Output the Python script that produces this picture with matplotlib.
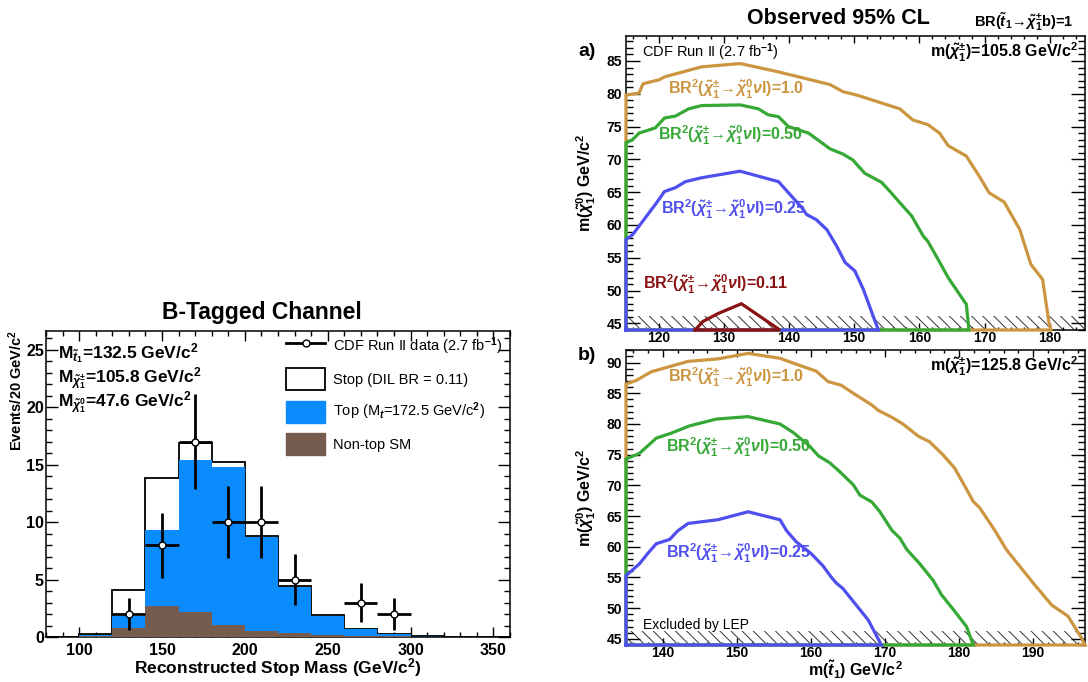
import matplotlib
matplotlib.use('agg')
import matplotlib.pyplot as plt
from matplotlib.ticker import MultipleLocator
from matplotlib.lines import Line2D
from matplotlib.patches import Patch

plt.rcParams['font.family'] = ['Liberation Sans', 'DejaVu Sans']
plt.rcParams['font.weight'] = 'bold'
plt.rcParams['mathtext.fontset'] = 'custom'
plt.rcParams['mathtext.rm'] = 'Liberation Sans:bold'
plt.rcParams['mathtext.it'] = 'Liberation Sans:italic:bold'
plt.rcParams['mathtext.bf'] = 'Liberation Sans:bold'
plt.rcParams['hatch.linewidth'] = 0.7

# ---- left panel: b-tagged channel histogram ----
bin_edges = [80, 100, 120, 140, 160, 180, 200, 220, 240, 260, 280, 300, 320, 340, 360]
stack_total = [0, 0.28, 4.12, 13.85, 16.9, 15.24, 8.8, 4.41, 1.89, 0.73, 0.29, 0.12, 0, 0]
top_sm = [0, 0.15, 1.83, 9.29, 15.39, 14.8, 8.71, 4.36, 1.87, 0.71, 0.27, 0.09, 0, 0]
nontop_sm = [0, 0.08, 0.81, 2.73, 2.18, 1.07, 0.49, 0.32, 0.2, 0.12, 0.06, 0.02, 0, 0]
data_x = [130, 150, 170, 190, 210, 230, 270, 290]
data_y = [2, 8, 17, 10, 10, 5, 3, 2]
data_err = [1.41, 2.83, 4.12, 3.16, 3.16, 2.24, 1.73, 1.41]

# ---- right panels: exclusion contours ----
# a) m(chargino) = 105.8
oa_x = [115, 115, 117, 117.6, 118.7, 120, 121, 126.6, 132.5, 138.1, 146.3, 148.3, 150.4, 157, 159,
        161.3, 163.1, 164.4, 167.2, 169.2, 170.7, 173, 175.4, 177.1, 178.9, 179.9, 180.2, 115]
oa_y = [44, 79.8, 80.1, 81.5, 81.8, 82.1, 82.6, 84.1, 84.6, 83.4, 81.4, 80.3, 79.8, 77.7, 76,
        75.3, 74, 72.1, 70.5, 67.4, 64.9, 63.5, 59.3, 54, 51.7, 44.9, 44, 44]
ga_x = [115, 115, 116, 117, 119.5, 120.9, 122.6, 124.6, 126.6, 132.5, 135.3, 136.8, 138.4, 139.9, 143,
        146.3, 148.3, 149.8, 151.6, 154.2, 155.5, 157, 158.8, 160.6, 161.3, 162.9, 164.4, 167.2, 167.6, 115]
ga_y = [44, 72.5, 73, 74, 74.8, 76.3, 76.6, 77.7, 78.2, 78.3, 77.7, 76.8, 76.5, 75, 74,
        71.6, 70.8, 69.9, 67.9, 66.5, 65.1, 63.4, 61.4, 58.3, 57.5, 54.7, 52, 47.9, 44, 44]
ba_x = [115, 115, 116, 119.7, 120.9, 122.6, 124.1, 126.6, 132.5, 138.4, 140.2, 142, 142.7, 144.2,
        145.8, 147.3, 148.6, 150.1, 151.4, 153.7, 115]
ba_y = [44, 57.8, 58.5, 63.4, 65.1, 65.7, 66.6, 67.2, 68.2, 66.6, 64.6, 62.6, 61.6, 60.8,
        59.3, 56.8, 54.3, 53, 50.2, 44, 44]
ra_x = [125.6, 126.8, 129.1, 132.7, 138.6, 125.6]
ra_y = [44, 45.3, 46.5, 48.0, 44, 44]
# b) m(chargino) = 125.8
ob_x = [135, 135, 136.4, 138.4, 143.4, 147.4, 151.5, 155.8, 157.6, 160.7, 162.3, 164.1, 165.7, 168.2,
        169.1, 170.9, 172.4, 174.5, 176, 177.8, 179.4, 180.8, 181.9, 182.8, 184.8, 186.4, 188.2, 190,
        192.5, 194.7, 196.5, 197, 135]
ob_y = [44, 86.5, 87.1, 88.5, 90.2, 90.6, 91.5, 90.7, 89.9, 88.6, 86.9, 86.3, 85, 83.1,
        82.2, 81.1, 80, 78, 77.1, 75, 72.8, 69.8, 67.4, 66.3, 62.7, 59.5, 56.8, 54.1,
        50.5, 48.7, 45.2, 44, 44]
gb_x = [135, 135, 136.8, 139.1, 141.1, 143.6, 147.2, 151.5, 155.8, 157.6, 159.8, 161, 162.5, 163.9,
        165.7, 166.6, 168.2, 169.3, 170.9, 172, 172.9, 174.7, 176.5, 177.6, 179.2, 181, 181.9, 135]
gb_y = [44, 74.3, 75.2, 77.7, 78.5, 79.7, 80.8, 81.2, 80, 78.6, 76.4, 74.8, 73.7, 72.2,
        70.1, 68.4, 67.3, 65.7, 62.7, 61.4, 59.6, 57.2, 54.5, 52.2, 49.8, 47, 44, 44]
bb_x = [135, 135, 136.8, 138, 139.1, 140.9, 142, 143.4, 147.4, 151.5, 155.8, 156.7, 158, 160,
        161.6, 162.7, 163.4, 164.3, 165.9, 167.7, 169.5, 135]
bb_y = [44, 55.3, 57.2, 59, 60.5, 61.2, 62.6, 63.8, 64.4, 65.7, 64.4, 62.6, 60.8, 58.9,
        56.9, 55.1, 54.1, 53.2, 50.8, 48.1, 44, 44]
lep_limit = 46.2

c_blue_fill = '#0a8cff'
c_brown = '#765b4f'
c_orange = '#cc9540'
c_green = '#35a835'
c_blue = '#4f4ff0'
c_red = '#8b1212'

W, H = 1088, 682
fig = plt.figure(figsize=(W / 100, H / 100), dpi=100)


def px(x, y):
    return x / W, 1 - y / H


def style_axes(ax, xmaj, xmin, ymaj, ymin, xlen, ylen, size, xpad=4):
    ax.xaxis.set_major_locator(MultipleLocator(xmaj))
    ax.xaxis.set_minor_locator(MultipleLocator(xmin))
    ax.yaxis.set_major_locator(MultipleLocator(ymaj))
    ax.yaxis.set_minor_locator(MultipleLocator(ymin))
    ax.tick_params(which='both', direction='in', top=True, right=True, width=1, labelsize=size)
    ax.xaxis.set_tick_params(which='major', length=xlen, pad=xpad)
    ax.xaxis.set_tick_params(which='minor', length=xlen / 2)
    ax.yaxis.set_tick_params(which='major', length=ylen, pad=3)
    ax.yaxis.set_tick_params(which='minor', length=ylen / 2)
    for s in ax.spines.values():
        s.set_linewidth(1.1)


# ---------------- left panel ----------------
axl = fig.add_axes([46 / W, 1 - 637 / H, 464 / W, 306 / H])
axl.stairs(stack_total, bin_edges, fill=True, facecolor='white', edgecolor='black', linewidth=1.3, zorder=1)
axl.stairs(top_sm, bin_edges, fill=True, facecolor=c_blue_fill, linewidth=0, zorder=2)
axl.stairs(nontop_sm, bin_edges, fill=True, facecolor=c_brown, linewidth=0, zorder=3)
axl.errorbar(data_x, data_y, xerr=10, yerr=data_err, fmt='o', color='black', mfc='white', mec='black',
             ms=5, mew=1, elinewidth=2, capsize=0, zorder=5)
axl.set_xlim(80, 360)
axl.set_ylim(0, 26.65)
style_axes(axl, 50, 10, 5, 1, 7, 8.5, 11.5)
axl.tick_params(axis='y', pad=1.5)

handles = [Line2D([], [], color='black', lw=2, marker='o', ms=5, mfc='white', mec='black'),
           Patch(facecolor='white', edgecolor='black', linewidth=1.3),
           Patch(facecolor=c_blue_fill, edgecolor=c_blue_fill),
           Patch(facecolor=c_brown, edgecolor=c_brown)]
labels = [r'CDF Run II data (2.7 fb$^{-1}$)', 'Stop (DIL BR = 0.11)',
          r'Top (M$_t$=172.5 GeV/c$^2$)', 'Non-top SM']
axl.legend(handles, labels, loc='upper left', bbox_to_anchor=(0.517, 0.985), frameon=False,
           prop={'weight': 'normal', 'size': 10.5}, handlelength=2.7, handleheight=1.95,
           labelspacing=0.72, handletextpad=0.5, borderpad=0, borderaxespad=0)

fig.text(*px(58, 359), r'M$_{\tilde{t}_1}$=132.5 GeV/c$^2$', fontsize=12.5, va='baseline')
fig.text(*px(58, 383), r'M$_{\tilde{\chi}_1^{\pm}}$=105.8 GeV/c$^2$', fontsize=12.5, va='baseline')
fig.text(*px(58, 407), r'M$_{\tilde{\chi}_1^{0}}$=47.6 GeV/c$^2$', fontsize=12.5, va='baseline')
fig.text(*px(262, 312), 'B-Tagged Channel', fontsize=16.5, ha='center', va='center')
fig.text(*px(278, 668), r'Reconstructed Stop Mass (GeV/c$^2$)', fontsize=12.5, ha='center', va='center')
fig.text(*px(16, 330), r'Events/20 GeV/c$^2$', fontsize=10.5, rotation=90, ha='center', va='top')

# ---------------- right panels ----------------
ax_a = fig.add_axes([626 / W, 1 - 330 / H, 459 / W, 294 / H])
ax_b = fig.add_axes([626 / W, 1 - 645 / H, 459 / W, 295 / H])

for ax, xr, yr in [(ax_a, (115, 185.4), (44, 88.8)), (ax_b, (135, 197), (44, 92.05))]:
    ax.fill_between(xr, yr[0], lep_limit, facecolor='none', edgecolor='#333333', hatch='\\\\\\',
                    linewidth=0, zorder=1)
    ax.set_xlim(*xr)
    ax.set_ylim(*yr)
    style_axes(ax, 10, 2, 5, 1, 5, 10, 10, xpad=1)
    ax.set_ylabel(r'm($\tilde{\chi}_1^0$) GeV/c$^2$', fontsize=11.5, fontweight='bold', labelpad=6)

lw = 2.3
for xs, ys, c in [(oa_x, oa_y, c_orange), (ga_x, ga_y, c_green), (ba_x, ba_y, c_blue), (ra_x, ra_y, c_red)]:
    ax_a.plot(xs, ys, color=c, lw=lw, clip_on=False, zorder=3, solid_joinstyle='miter')
for xs, ys, c in [(ob_x, ob_y, c_orange), (gb_x, gb_y, c_green), (bb_x, bb_y, c_blue)]:
    ax_b.plot(xs, ys, color=c, lw=lw, clip_on=False, zorder=3, solid_joinstyle='miter')

fig.text(*px(855, 670), r'm($\tilde{t}_1$) GeV/c$^2$', fontsize=11.5, ha='center', va='center')

br = r'BR$^2$($\tilde{\chi}_1^{\pm}\!\rightarrow\!\tilde{\chi}_1^0\nu$l)='
fs = 11.5
fig.text(*px(838, 19), 'Observed 95% CL', fontsize=15.5, ha='center', va='center')
fig.text(*px(1073, 22), r'BR($\tilde{t}_1\!\rightarrow\!\tilde{\chi}_1^{\pm}$b)=1', fontsize=10.5,
         ha='right', va='center')
fig.text(*px(587, 52), 'a)', fontsize=14, ha='center', va='center')
fig.text(*px(587, 356), 'b)', fontsize=14, ha='center', va='center')
fig.text(*px(642, 52), r'CDF Run II (2.7 fb$^{-1}$)', fontsize=10.5, weight='normal', va='center')
fig.text(*px(1078, 52), r'm($\tilde{\chi}_1^{\pm}$)=105.8 GeV/c$^2$', fontsize=11.5, ha='right', va='center')
fig.text(*px(1078, 366), r'm($\tilde{\chi}_1^{\pm}$)=125.8 GeV/c$^2$', fontsize=11.5, ha='right', va='center')
fig.text(*px(668, 89), br + '1.0', fontsize=fs, color=c_orange, va='center')
fig.text(*px(658, 135), br + '0.50', fontsize=fs, color=c_green, va='center')
fig.text(*px(661, 209), br + '0.25', fontsize=fs, color=c_blue, va='center')
fig.text(*px(643, 284), br + '0.11', fontsize=fs, color=c_red, va='center')
fig.text(*px(668, 377), br + '1.0', fontsize=fs, color=c_orange, va='center')
fig.text(*px(666, 447), br + '0.50', fontsize=fs, color=c_green, va='center')
fig.text(*px(666, 553), br + '0.25', fontsize=fs, color=c_blue, va='center')
fig.text(*px(643, 625), 'Excluded by LEP', fontsize=10, weight='normal', va='center')

fig.savefig('out.png', dpi=100)
